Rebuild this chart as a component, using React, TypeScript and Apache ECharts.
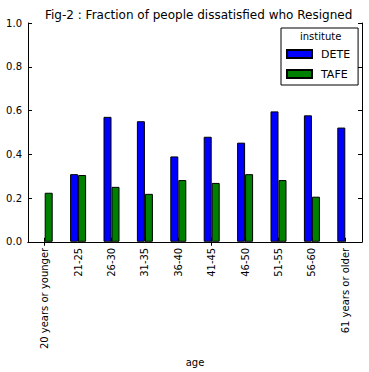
import React, { useEffect, useRef } from "react";
import * as echarts from "echarts";

const ageGroups = [
  "20 years or younger",
  "21-25",
  "26-30",
  "31-35",
  "36-40",
  "41-45",
  "46-50",
  "51-55",
  "56-60",
  "61 years or older",
];
const deteValues = [null, 0.309, 0.571, 0.551, 0.39, 0.48, 0.453, 0.596, 0.578, 0.522];
const tafeValues = [0.224, 0.305, 0.251, 0.219, 0.282, 0.269, 0.309, 0.282, 0.206, null];
const seriesNames = ["DETE", "TAFE"];
const seriesColors = ["#0000ff", "#008000"];

const FONT = "DejaVu Sans";

export default function App() {
  const ref = useRef<HTMLDivElement>(null);
  useEffect(() => {
    if (!ref.current) return;
    const chart = echarts.init(ref.current, null, { renderer: "svg" });
    const axisLine = { show: true, lineStyle: { color: "#000", width: 1 } };
    chart.setOption({
      animation: false,
      backgroundColor: "#fff",
      title: {
        text: "Fig-2 : Fraction of people dissatisfied who Resigned",
        left: 40,
        top: 4,
        textStyle: { fontFamily: FONT, fontSize: 12, fontWeight: "normal", color: "#000" },
      },
      grid: { left: 28, right: 7, top: 23, bottom: 127, containLabel: false },
      legend: {
        orient: "vertical",
        left: 281,
        top: 28,
        padding: [19, 8, 4, 5],
        itemWidth: 25,
        itemHeight: 8,
        itemGap: 6,
        borderColor: "#000",
        borderWidth: 1,
        icon: "rect",
        data: seriesNames,
        textStyle: { fontFamily: FONT, fontSize: 11, color: "#000", lineHeight: 14, padding: [0, 0, 0, 4] },
      },
      graphic: [
        {
          type: "text",
          left: 300,
          top: 31,
          style: { text: "institute", font: `10px "${FONT}"`, fill: "#000" },
        },
      ],
      xAxis: [
        {
          type: "category",
          data: ageGroups,
          position: "bottom",
          axisLine,
          axisTick: { show: true, inside: true, alignWithLabel: true, length: 4, lineStyle: { color: "#000" } },
          axisLabel: { rotate: 90, margin: 6, fontFamily: FONT, fontSize: 10, color: "#000", interval: 0 },
          splitLine: { show: false },
          name: "age",
          nameLocation: "middle",
          nameGap: 113,
          nameTextStyle: { fontFamily: FONT, fontSize: 10, color: "#000" },
        },
        {
          type: "category",
          data: ageGroups,
          position: "top",
          axisLine,
          axisTick: { show: true, inside: true, alignWithLabel: true, length: 4, lineStyle: { color: "#000" } },
          axisLabel: { show: false },
          splitLine: { show: false },
        },
      ],
      yAxis: [
        {
          type: "value",
          min: 0,
          max: 1,
          interval: 0.2,
          position: "left",
          axisLine,
          axisTick: { show: true, inside: true, length: 4, lineStyle: { color: "#000" } },
          axisLabel: {
            margin: 6,
            fontFamily: FONT,
            fontSize: 10,
            color: "#000",
            formatter: (v: number) => v.toFixed(1),
          },
          splitLine: { show: false },
        },
        {
          type: "value",
          min: 0,
          max: 1,
          interval: 0.2,
          position: "right",
          axisLine,
          axisTick: { show: true, inside: true, length: 4, lineStyle: { color: "#000" } },
          axisLabel: { show: false },
          splitLine: { show: false },
        },
      ],
      series: [
        {
          name: seriesNames[0],
          type: "bar",
          data: deteValues.map((v) => (v === null ? "-" : v)),
          barWidth: 8,
          barGap: "0%",
          itemStyle: { color: seriesColors[0], borderColor: "#000", borderWidth: 1 },
        },
        {
          name: seriesNames[1],
          type: "bar",
          data: tafeValues.map((v) => (v === null ? "-" : v)),
          barWidth: 8,
          barGap: "0%",
          itemStyle: { color: seriesColors[1], borderColor: "#000", borderWidth: 1 },
        },
      ],
    });
    return () => chart.dispose();
  }, []);
  return <div ref={ref} style={{ width: 369, height: 372, position: "absolute", left: 0, top: 0 }} />;
}
